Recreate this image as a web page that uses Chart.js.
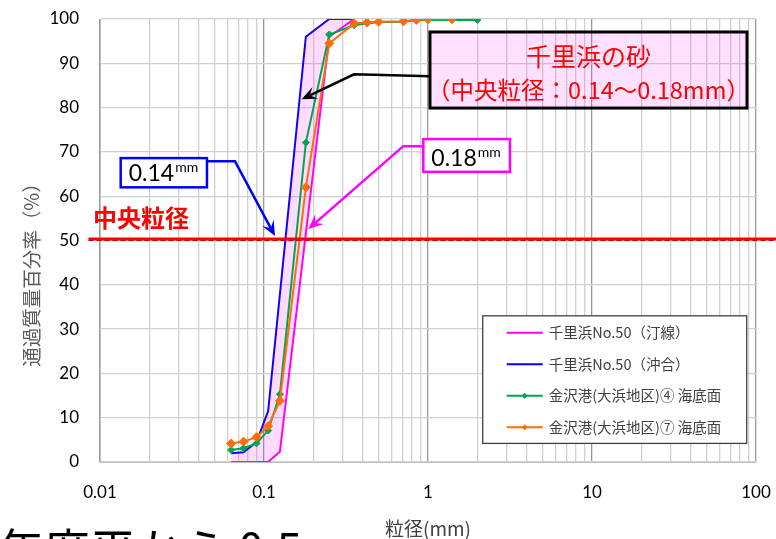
<!DOCTYPE html>
<html lang="ja">
<head>
<meta charset="utf-8">
<script src="https://cdn.jsdelivr.net/npm/chart.js@4.4.1/dist/chart.umd.min.js"></script>
<style>
  html, body { margin: 0; padding: 0; background: #fff; }
  #wrap { width: 776px; height: 539px; position: relative; overflow: hidden; }
  #psdChart { position: absolute; left: 0; top: 0; }
  #pageText {
    position: absolute; left: -2px; top: 514px; margin: 0;
    font: 46px "Noto Sans CJK JP", sans-serif; line-height: 66px;
    color: #000; white-space: nowrap;
  }
</style>
</head>
<body>
<div id="wrap">
  <canvas id="psdChart" width="776" height="539"></canvas>
  <p id="pageText">年度平から 0.5</p>
</div>
<script>
// ふるい目（mm）… 金沢港の2試料で共通
const sieveSizes = [0.063, 0.075, 0.09, 0.106, 0.125, 0.18, 0.25, 0.355, 0.425, 0.5, 0.71, 0.85, 1.0, 1.4, 2.0];
// 金沢港(大浜地区)④ 海底面（通過質量百分率 %）
const kanazawa4 = [2.7, 3.1, 4.2, 7.1, 15.3, 72.1, 96.5, 98.6, 99.0, 99.3, 99.4, 99.7, 99.8, 99.8, 99.8];
// 金沢港(大浜地区)⑦ 海底面
const kanazawa7 = [4.2, 4.6, 5.6, 8.1, 13.8, 62.0, 94.5, 99.0, 99.2, 99.4, 99.5, 99.8, 100, 100, null];
// 千里浜No.50（汀線）
const shoreSizes = [0.063, 0.106, 0.125, 0.25, 0.355];
const shorePass = [0, 0, 2.3, 96, 100];
// 千里浜No.50（沖合）
const offshoreSizes = [0.063, 0.075, 0.09, 0.106, 0.18, 0.25, 0.355];
const offshorePass = [2.0, 2.2, 4.5, 11.5, 96, 100, 100];

const seriesNames = ['千里浜No.50（汀線）', '千里浜No.50（沖合）', '金沢港(大浜地区)④ 海底面', '金沢港(大浜地区)⑦ 海底面'];
const seriesColors = ['#ff00ff', '#0000ff', '#00a550', '#ff6d0a'];

// 軸
const xDecades = [0.01, 0.1, 1, 10, 100];
const xTickLabels = ['0.01', '0.1', '1', '10', '100'];
const yTickLabels = ['0', '10', '20', '30', '40', '50', '60', '70', '80', '90', '100'];
const medianLevel = 50;

const FONT = 'Lato, "Noto Sans CJK JP", sans-serif';
const JP = '"Noto Sans CJK JP", sans-serif';

// 対数目盛の補助線 (1〜9 × 10^n)
const gridValues = [];
xDecades.slice(0, -1).forEach(d => {
  for (let m = 1; m < 10; m++) gridValues.push(+(m * d).toPrecision(3));
});
gridValues.push(xDecades[xDecades.length - 1]);

const isDecade = v => xDecades.some(d => Math.abs(v - d) / d < 1e-6);

const toPoints = (xs, ys) => xs.map((x, i) => ({ x, y: ys[i] })).filter(p => p.y !== null);

// 矢印（ステルス型の矢じり）
function drawArrow(ctx, pts, color) {
  const n = pts.length;
  const [ax, ay] = pts[n - 2];
  const [bx, by] = pts[n - 1];
  const ang = Math.atan2(by - ay, bx - ax);
  const head = 15, half = 6.5;
  const cos = Math.cos(ang), sin = Math.sin(ang);
  ctx.strokeStyle = color;
  ctx.fillStyle = color;
  ctx.lineWidth = 2.5;
  ctx.lineJoin = 'miter';
  ctx.beginPath();
  ctx.moveTo(pts[0][0], pts[0][1]);
  for (let i = 1; i < n - 1; i++) ctx.lineTo(pts[i][0], pts[i][1]);
  ctx.lineTo(bx - cos * head * 0.6, by - sin * head * 0.6);
  ctx.stroke();
  ctx.beginPath();
  ctx.moveTo(bx, by);
  ctx.lineTo(bx - cos * head - sin * half, by - sin * head + cos * half);
  ctx.lineTo(bx - cos * head * 0.6, by - sin * head * 0.6);
  ctx.lineTo(bx - cos * head + sin * half, by - sin * head - cos * half);
  ctx.closePath();
  ctx.fill();
}

// 数値 + 上付き「mm」の吹き出し
function drawValueBox(ctx, box, value, color) {
  const w = box.x1 - box.x0, h = box.y1 - box.y0;
  ctx.fillStyle = '#fff';
  ctx.fillRect(box.x0, box.y0, w, h);
  ctx.strokeStyle = color;
  ctx.lineWidth = 2.5;
  ctx.strokeRect(box.x0, box.y0, w, h);
  ctx.fillStyle = '#000';
  ctx.textAlign = 'left';
  ctx.textBaseline = 'alphabetic';
  ctx.font = '23px ' + FONT;
  const tx = box.x0 + 8, ty = box.y1 - 6;
  ctx.fillText(value, tx, ty);
  const vw = ctx.measureText(value).width;
  ctx.font = '14px ' + FONT;
  ctx.fillText('mm', tx + vw + 1, ty - 9);
}

const overlayPlugin = {
  id: 'overlay',
  afterDatasetsDraw(chart) {
    const ctx = chart.ctx;
    const sx = v => chart.scales.x.getPixelForValue(v);
    const sy = v => chart.scales.y.getPixelForValue(v);
    ctx.save();

    // 中央粒径 50% ライン
    const y50 = sy(medianLevel) - 1.5;
    ctx.strokeStyle = '#ff0000';
    ctx.lineWidth = 3;
    ctx.beginPath();
    ctx.moveTo(sx(0.0085), y50);
    ctx.lineTo(chart.width, y50);
    ctx.stroke();
    ctx.setLineDash([5, 3]);
    ctx.lineWidth = 1;
    ctx.strokeStyle = '#c80000';
    ctx.beginPath();
    ctx.moveTo(sx(0.0085), y50 + 1.5);
    ctx.lineTo(chart.width, y50 + 1.5);
    ctx.stroke();
    ctx.setLineDash([]);

    ctx.fillStyle = '#ff0000';
    ctx.font = 'bold 24px ' + JP;
    ctx.textAlign = 'left';
    ctx.textBaseline = 'middle';
    ctx.fillText('中央粒径', sx(0.00906), sy(55.1));

    // 0.14mm（沖合）
    drawArrow(ctx, [[sx(0.0449), sy(67.9)], [sx(0.0665), sy(67.9)], [sx(0.1167), sy(51.0)]], '#0000ff');
    drawValueBox(ctx, { x0: sx(0.01337), y0: sy(68.6), x1: sx(0.0449), y1: sy(62.0) }, '0.14', '#0000ff');

    // 0.18mm（汀線）
    drawArrow(ctx, [[sx(0.936), sy(71.3)], [sx(0.707), sy(71.3)], [sx(0.1862), sy(52.6)]], '#ff00ff');
    drawValueBox(ctx, { x0: sx(0.936), y0: sy(72.9), x1: sx(3.16), y1: sy(65.5) }, '0.18', '#ff00ff');

    // 千里浜の砂
    drawArrow(ctx, [[sx(1.03), sy(87.1)], [sx(0.354), sy(87.5)], [sx(0.1698), sy(81.9)]], '#000000');
    const bx0 = sx(1.028), bx1 = sx(88.1), by0 = sy(97.07), by1 = sy(79.9);
    ctx.fillStyle = 'rgba(255, 0, 255, 0.12)';
    ctx.fillRect(bx0, by0, bx1 - bx0, by1 - by0);
    ctx.strokeStyle = '#000';
    ctx.lineWidth = 3;
    ctx.strokeRect(bx0, by0, bx1 - bx0, by1 - by0);
    ctx.fillStyle = '#ff0000';
    ctx.textAlign = 'center';
    ctx.textBaseline = 'middle';
    const bcx = (bx0 + bx1) / 2;
    ctx.font = '25px ' + JP;
    ctx.fillText('千里浜の砂', bcx, by0 + 25);
    ctx.font = '23.5px ' + JP;
    ctx.fillText('（中央粒径：0.14～0.18mm）', bcx, by0 + 58);

    // 凡例
    const lx0 = sx(2.156), lx1 = sx(87.75), ly0 = sy(33.0), ly1 = sy(4.2);
    ctx.fillStyle = '#fff';
    ctx.fillRect(lx0, ly0, lx1 - lx0, ly1 - ly0);
    ctx.strokeStyle = '#404040';
    ctx.lineWidth = 1.3;
    ctx.strokeRect(lx0, ly0, lx1 - lx0, ly1 - ly0);
    chart.data.datasets.forEach((ds, i) => {
      const ry = ly0 + 17 + i * 31.5;
      ctx.strokeStyle = ds.borderColor;
      ctx.lineWidth = 2;
      ctx.beginPath();
      ctx.moveTo(lx0 + 24, ry);
      ctx.lineTo(lx0 + 60, ry);
      ctx.stroke();
      if (ds.pointRadius > 0) {
        ctx.fillStyle = ds.borderColor;
        ctx.beginPath();
        ctx.moveTo(lx0 + 42, ry - 3);
        ctx.lineTo(lx0 + 45, ry);
        ctx.lineTo(lx0 + 42, ry + 3);
        ctx.lineTo(lx0 + 39, ry);
        ctx.closePath();
        ctx.fill();
      }
      ctx.fillStyle = '#404040';
      ctx.font = '14.5px ' + JP;
      ctx.textAlign = 'left';
      ctx.textBaseline = 'middle';
      ctx.fillText(ds.label, lx0 + 66, ry);
    });

    // 縦軸タイトル
    ctx.translate(32, 270);
    ctx.rotate(-Math.PI / 2);
    ctx.fillStyle = '#595959';
    ctx.font = '19.5px ' + JP;
    ctx.textAlign = 'center';
    ctx.textBaseline = 'middle';
    ctx.fillText('通過質量百分率（%）', 0, 0);

    ctx.restore();
  }
};

const ctx = document.getElementById('psdChart').getContext('2d');

new Chart(ctx, {
  type: 'line',
  data: {
    datasets: [
      {
        label: seriesNames[0],
        data: toPoints(shoreSizes, shorePass),
        borderColor: seriesColors[0],
        backgroundColor: 'rgba(255, 0, 255, 0.14)',
        borderWidth: 2,
        pointRadius: 0,
        fill: { target: 1 },
        order: 2
      },
      {
        label: seriesNames[1],
        data: toPoints(offshoreSizes, offshorePass),
        borderColor: seriesColors[1],
        borderWidth: 2,
        pointRadius: 0,
        fill: false,
        order: 3
      },
      {
        label: seriesNames[2],
        data: toPoints(sieveSizes, kanazawa4),
        borderColor: seriesColors[2],
        backgroundColor: seriesColors[2],
        borderWidth: 2,
        pointStyle: 'rectRot',
        pointRadius: 3.5,
        pointBorderWidth: 1,
        fill: false,
        order: 1
      },
      {
        label: seriesNames[3],
        data: toPoints(sieveSizes, kanazawa7),
        borderColor: seriesColors[3],
        backgroundColor: seriesColors[3],
        borderWidth: 2,
        pointStyle: 'rectRot',
        pointRadius: 4.5,
        pointBorderWidth: 1,
        fill: false,
        order: 0
      }
    ]
  },
  options: {
    responsive: false,
    animation: false,
    layout: { padding: { top: 19, right: 20, left: 0, bottom: 0 } },
    plugins: {
      legend: { display: false },
      tooltip: { enabled: false }
    },
    scales: {
      x: {
        type: 'logarithmic',
        min: xDecades[0],
        max: xDecades[xDecades.length - 1],
        afterBuildTicks: (scale) => {
          scale.ticks = gridValues.map(v => ({ value: v, major: isDecade(v) }));
        },
        afterFit: (scale) => { scale.height = 77; },
        ticks: {
          autoSkip: false,
          maxRotation: 0,
          padding: 0,
          color: '#000',
          font: { family: FONT, size: 17 },
          callback: (value) => {
            const k = xDecades.findIndex(d => Math.abs(value - d) / d < 1e-6);
            return k >= 0 ? xTickLabels[k] : '';
          }
        },
        grid: {
          drawTicks: true,
          tickLength: 20,
          tickColor: 'rgba(0,0,0,0)',
          lineWidth: 1.3,
          color: (c) => (c.tick && isDecade(c.tick.value) ? '#9a9a9a' : '#d0d0d0')
        },
        border: { color: '#bfbfbf' },
        title: {
          display: true,
          text: '粒径(mm)',
          color: '#404040',
          font: { family: JP, size: 19 },
          padding: { top: 0, bottom: -1 }
        }
      },
      y: {
        min: 0,
        max: 100,
        afterFit: (scale) => { scale.width = 100; },
        ticks: {
          stepSize: 10,
          padding: 0,
          color: '#000',
          font: { family: FONT, size: 17 },
          callback: (value) => yTickLabels[Math.round(value / 10)]
        },
        grid: {
          drawTicks: true,
          tickLength: 21,
          tickColor: 'rgba(0,0,0,0)',
          lineWidth: 1.3,
          color: '#d0d0d0'
        },
        border: { color: '#bfbfbf' }
      }
    }
  },
  plugins: [overlayPlugin]
});
</script>
</body>
</html>
